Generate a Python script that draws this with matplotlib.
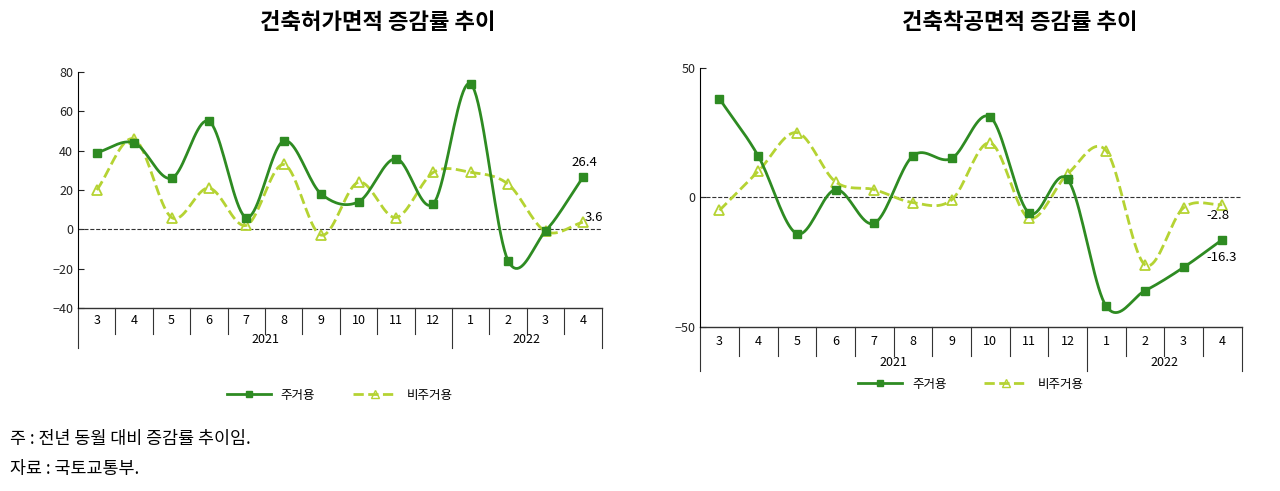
import numpy as np
import matplotlib
matplotlib.use("Agg")
import matplotlib.pyplot as plt

plt.rcParams['font.family'] = ['Noto Sans CJK KR', 'DejaVu Sans']

months = ['3','4','5','6','7','8','9','10','11','12','1','2','3','4']
years = ['2021', '2022']
permit_res = [39, 44, 26, 55, 6, 45, 18, 14, 36, 13, 74, -16, -1, 26.4]
permit_nonres = [20, 46, 6, 21, 2, 33, -3, 24, 6, 29, 29, 23, -1, 3.6]
start_res = [38, 16, -14, 3, -10, 16, 15, 31, -6, 7, -42, -36, -27, -16.3]
start_nonres = [-5, 10, 25, 6, 3, -2, -1, 21, -8, 9, 18, -26, -4, -2.8]

DARK = '#2e8b22'
LIGHT = '#b5d333'

def smooth(x, y, n=20):
    x = np.asarray(x, float); y = np.asarray(y, float)
    xs, ys = [], []
    P = np.concatenate([[2*y[0]-y[1]], y, [2*y[-1]-y[-2]]])
    for i in range(len(x)-1):
        t = np.linspace(0, 1, n, endpoint=False)
        p0, p1, p2, p3 = P[i], P[i+1], P[i+2], P[i+3]
        yy = 0.5*((2*p1) + (-p0+p2)*t + (2*p0-5*p1+4*p2-p3)*t**2 + (-p0+3*p1-3*p2+p3)*t**3)
        xs.append(x[i] + t*(x[i+1]-x[i])); ys.append(yy)
    xs.append([x[-1]]); ys.append([y[-1]])
    return np.concatenate(xs), np.concatenate(ys)

fig = plt.figure(figsize=(12.8, 4.91), dpi=100)

def panel(rect, res, nonres, ylim, yticks, title, title_x, ann, ann_pos, leg_y):
    ax = fig.add_axes(rect)
    x = np.arange(len(months)) + 0.5
    ax.axhline(0, color='#333', ls='--', lw=0.8)
    sx, sy = smooth(x, nonres)
    ax.plot(sx, sy, color=LIGHT, lw=2, ls='--')
    ax.plot(x, nonres, ls='none', marker='^', mfc='none', mec=LIGHT, ms=7, mew=1.3)
    sx, sy = smooth(x, res)
    ax.plot(sx, sy, color=DARK, lw=2)
    ax.plot(x, res, ls='none', marker='s', color=DARK, ms=6)
    ax.set_xlim(0, len(months)); ax.set_ylim(*ylim)
    ax.set_yticks(yticks)
    ax.tick_params(axis='y', labelsize=9, direction='in', length=4, colors='#222')
    ax.set_xticks([])
    for s in ['top', 'right']:
        ax.spines[s].set_visible(False)
    ax.spines['bottom'].set_visible(False)
    tr = ax.get_xaxis_transform()
    ax.plot([0, len(months)], [0, 0], transform=tr, color='#333', lw=1, clip_on=False)
    for i in range(len(months)+1):
        bot = -0.17 if i in (0, 10, 14) else -0.11
        ax.plot([i, i], [0, bot], transform=tr, color='#333', lw=0.8, clip_on=False)
    for i, m in enumerate(months):
        ax.text(i+0.5, -0.055, m, transform=tr, ha='center', va='center', fontsize=9)
    ax.text(5, -0.135, years[0], transform=tr, ha='center', va='center', fontsize=9)
    ax.text(12, -0.135, years[1], transform=tr, ha='center', va='center', fontsize=9)
    for (t, pos) in zip(ann, ann_pos):
        ax.text(pos[0], pos[1], t, fontsize=9.5, ha='left', va='center')
    fig.text(title_x, 0.955, title, fontsize=16, fontweight='bold', ha='center', va='center')
    l1, = ax.plot([], [], color=DARK, lw=2, marker='s', ms=5, label='주거용')
    l2, = ax.plot([], [], color=LIGHT, lw=2, ls='--', marker='^', mfc='none', ms=6, label='비주거용')
    ax.legend(handles=[l1, l2], loc='center', bbox_to_anchor=(0.5, leg_y), ncol=2,
              frameon=False, fontsize=9, handlelength=3.5, columnspacing=3)
    return ax

panel([0.061, 0.373, 0.409, 0.48], permit_res, permit_nonres, (-40, 80),
      [-40, -20, 0, 20, 40, 60, 80], '건축허가면적 증감률 추이', 0.295,
      ['26.4', '3.6'], [(13.2, 34), (13.55, 6)], -0.37)
panel([0.547, 0.334, 0.423, 0.528], start_res, start_nonres, (-50, 50),
      [-50, 0, 50], '건축착공면적 증감률 추이', 0.797,
      ['-2.8', '-16.3'], [(13.1, -7), (13.1, -23)], -0.22)

fig.text(0.008, 0.105, '주 : 전년 동월 대비 증감률 추이임.', fontsize=12.5, va='center')
fig.text(0.008, 0.045, '자료 : 국토교통부.', fontsize=12.5, va='center')
fig.savefig('out.png', dpi=100)
